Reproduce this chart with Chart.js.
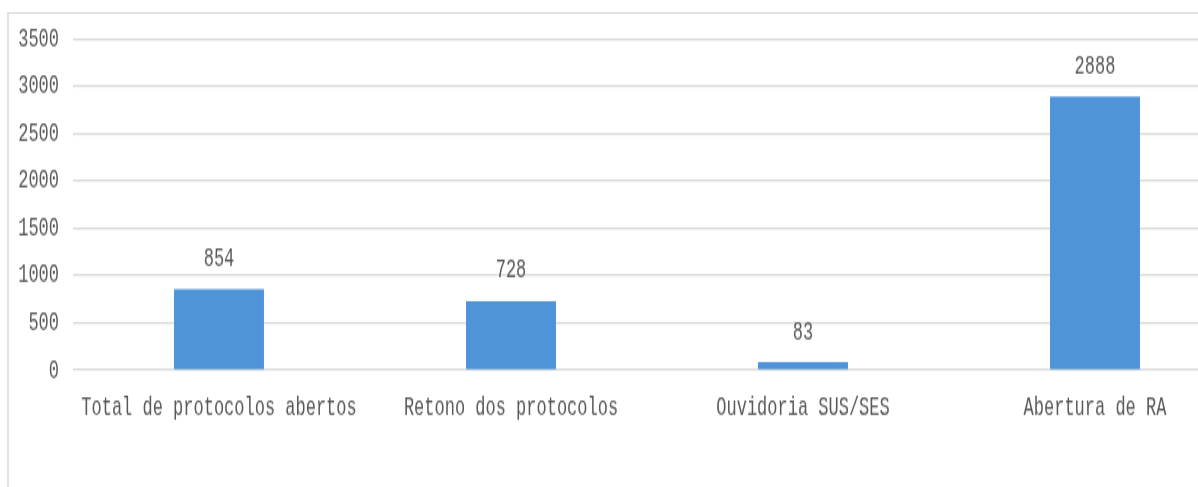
<!DOCTYPE html>
<html lang="pt">
<head>
    <meta charset="UTF-8">
    <title>Protocolos</title>
    <script src="https://cdn.jsdelivr.net/npm/chart.js"></script>
    <style>
        html, body { margin: 0; padding: 0; background: #fff; overflow: hidden; width: 1198px; height: 487px; }
        #frame { position: absolute; left: 7px; top: 12px; width: 1400px; height: 600px;
                 border-left: 2px solid #e3e3e3; border-top: 2px solid #e3e3e3; }
        #wrap { position: absolute; left: 0; top: 0; transform: scaleY(1.602); transform-origin: 0 0; }
    </style>
</head>
<body>
    <div id="frame"></div>
    <div id="wrap">
        <canvas id="myChart" width="1260" height="304"></canvas>
    </div>
    <script>
        const categories = ['Total de protocolos abertos', 'Retono dos protocolos', 'Ouvidoria SUS/SES', 'Abertura de RA'];
        const values = [854, 728, 83, 2888];
        const yMin = 0, yMax = 3500, yStep = 500;

        const textColor = '#595959';
        const font = { family: "'Liberation Mono', 'DejaVu Sans Mono', monospace", size: 17 };

        // draw the value above every bar
        const valueLabels = {
            id: 'valueLabels',
            afterDatasetsDraw(chart) {
                const ctx = chart.ctx;
                ctx.save();
                ctx.font = font.size + 'px ' + font.family;
                ctx.fillStyle = textColor;
                ctx.textAlign = 'center';
                ctx.textBaseline = 'middle';
                chart.getDatasetMeta(0).data.forEach((bar, i) => {
                    ctx.fillText(values[i], bar.x, bar.y - 19);
                });
                ctx.restore();
            }
        };

        const ctx = document.getElementById('myChart').getContext('2d');
        const myChart = new Chart(ctx, {
            type: 'bar',
            data: {
                labels: categories,
                datasets: [{
                    data: values,
                    backgroundColor: '#4f94d8',
                    borderWidth: 0,
                    categoryPercentage: 1,
                    barPercentage: 0.308
                }]
            },
            options: {
                responsive: false,
                animation: false,
                devicePixelRatio: 1,
                layout: { padding: { left: 0, top: 21, right: 19, bottom: 0 } },
                plugins: { legend: { display: false }, tooltip: { enabled: false } },
                scales: {
                    x: {
                        grid: { display: false },
                        border: { display: false },
                        ticks: { color: textColor, font: font, padding: 5, maxRotation: 0, autoSkip: false },
                        afterFit(scale) { scale.height = 73; }
                    },
                    y: {
                        min: yMin,
                        max: yMax,
                        grid: { color: '#d9d9d9', lineWidth: 1.2, drawTicks: false },
                        border: { display: false },
                        ticks: { stepSize: yStep, color: textColor, font: font, padding: 14,
                                 callback: v => String(v) },
                        afterFit(scale) { scale.width = 73; }
                    }
                }
            },
            plugins: [valueLabels]
        });
    </script>
</body>
</html>
